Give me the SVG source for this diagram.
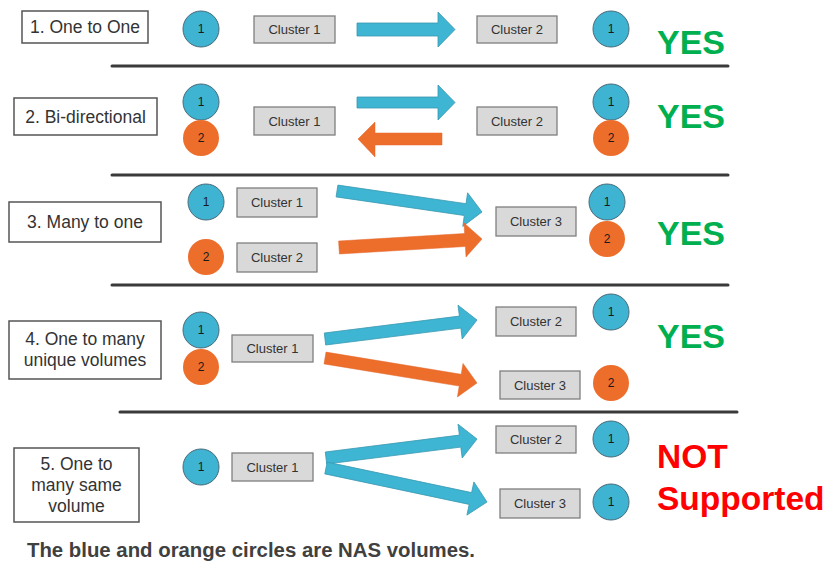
<svg xmlns="http://www.w3.org/2000/svg" width="830" height="565" viewBox="0 0 830 565">
  <style>
    .lbl { fill: #ffffff; stroke: #555555; stroke-width: 1.5; }
    .lbl-t { font-family: "Liberation Sans", Arial, sans-serif; font-size: 17.5px; fill: #333333; text-anchor: middle; }
    .clu { fill: #d9d9d9; stroke: #7f7f7f; stroke-width: 1.3; }
    .clu-t { font-family: "Liberation Sans", Arial, sans-serif; font-size: 13px; fill: #333333; text-anchor: middle; }
    .vb { fill: #3fb4d2; stroke: #4a6a78; stroke-width: 1; }
    .vo { fill: #ed6d2b; stroke: none; }
    .vn { font-family: "Liberation Sans", Arial, sans-serif; font-size: 12px; fill: #1a1a1a; text-anchor: middle; }
    .ab { fill: #3db5d3; stroke: #3a98b0; stroke-width: 0.8; stroke-linejoin: miter; }
    .ao { fill: #ed6d2b; stroke: #e2662a; stroke-width: 0.5; }
    .div { stroke: #3a3a3a; stroke-width: 3; stroke-linecap: round; }
    .yes { font-family: "Liberation Sans", Arial, sans-serif; font-size: 34px; font-weight: bold; fill: #00b050; }
    .no { font-family: "Liberation Sans", Arial, sans-serif; font-size: 33.5px; font-weight: bold; fill: #ff0000; }
    .cap { font-family: "Liberation Sans", Arial, sans-serif; font-size: 19.5px; font-weight: bold; fill: #404040; }
  </style>

  <!-- section dividers -->
  <g id="dividers">
    <line class="div" x1="112" y1="66" x2="728" y2="66"/>
    <line class="div" x1="112" y1="175" x2="728" y2="175"/>
    <line class="div" x1="112" y1="285" x2="728" y2="285"/>
    <line class="div" x1="120" y1="412" x2="737" y2="412"/>
  </g>

  <!-- replication arrows -->
  <g id="connectors">
    <polygon class="ab" points="357,23 438,23 438,12 455,29.5 438,47 438,36 357,36"/>
    <polygon class="ab" points="357,97 438,97 438,85 455,102.5 438,120 438,108 357,108"/>
    <polygon class="ao" points="442,133 375,133 375,122 358,139 375,157 375,145 442,145"/>
    <polygon class="ab" points="337.9,185.1 466.0,203.7 467.6,192.8 482,212 462.8,226.4 464.3,215.5 336.1,196.9"/>
    <polygon class="ao" points="338.6,241.0 464.6,233.5 464.0,223.0 482,239 466.0,257.0 465.4,246.5 339.4,254.0"/>
    <polygon class="ab" points="324.3,333.0 459.4,316.1 458.0,305.2 477,320 462.2,339.0 460.9,328.1 325.7,345.0"/>
    <polygon class="ao" points="326.0,352.1 461.2,374.3 463.0,363.4 477,383 457.4,397.0 459.2,386.1 324.0,363.9"/>
    <polygon class="ab" points="325.3,452.0 459.4,435.1 458.0,424.2 477,439 462.2,458.0 460.8,447.1 326.7,464.0"/>
    <polygon class="ab" points="327.2,462.1 471.6,492.6 473.9,481.9 487,502 466.9,515.1 469.2,504.4 324.8,473.9"/>
  </g>

  <!-- scenario labels -->
  <g id="label1"><rect class="lbl" x="22" y="11" width="126" height="32"/><text class="lbl-t" x="85" y="33">1. One to One</text></g>
  <g id="label2"><rect class="lbl" x="14" y="98" width="143" height="37"/><text class="lbl-t" x="85.5" y="123">2. Bi-directional</text></g>
  <g id="label3"><rect class="lbl" x="9" y="202" width="152" height="40"/><text class="lbl-t" x="85" y="228">3. Many to one</text></g>
  <g id="label4"><rect class="lbl" x="9" y="321" width="152" height="58"/><text class="lbl-t" x="85" y="345">4. One to many</text><text class="lbl-t" x="85" y="366">unique volumes</text></g>
  <g id="label5"><rect class="lbl" x="14" y="448" width="125" height="74"/><text class="lbl-t" x="76.5" y="470">5. One to</text><text class="lbl-t" x="76.5" y="491">many same</text><text class="lbl-t" x="76.5" y="512">volume</text></g>

  <!-- clusters -->
  <g id="r1-cluster1"><rect class="clu" x="254" y="16" width="81" height="27"/><text class="clu-t" x="294.5" y="34">Cluster 1</text></g>
  <g id="r1-cluster2"><rect class="clu" x="477" y="16" width="80" height="27"/><text class="clu-t" x="517" y="34">Cluster 2</text></g>
  <g id="r2-cluster1"><rect class="clu" x="254" y="107" width="81" height="28"/><text class="clu-t" x="294.5" y="125.5">Cluster 1</text></g>
  <g id="r2-cluster2"><rect class="clu" x="477" y="107" width="80" height="28"/><text class="clu-t" x="517" y="125.5">Cluster 2</text></g>
  <g id="r3-cluster1"><rect class="clu" x="237" y="188" width="80" height="29"/><text class="clu-t" x="277" y="207">Cluster 1</text></g>
  <g id="r3-cluster2"><rect class="clu" x="237" y="243" width="80" height="29"/><text class="clu-t" x="277" y="262">Cluster 2</text></g>
  <g id="r3-cluster3"><rect class="clu" x="496" y="207" width="80" height="29"/><text class="clu-t" x="536" y="226">Cluster 3</text></g>
  <g id="r4-cluster1"><rect class="clu" x="232" y="335" width="81" height="27"/><text class="clu-t" x="272.5" y="353">Cluster 1</text></g>
  <g id="r4-cluster2"><rect class="clu" x="496" y="307" width="80" height="29"/><text class="clu-t" x="536" y="326">Cluster 2</text></g>
  <g id="r4-cluster3"><rect class="clu" x="500" y="371" width="80" height="28"/><text class="clu-t" x="540" y="389.5">Cluster 3</text></g>
  <g id="r5-cluster1"><rect class="clu" x="232" y="453" width="81" height="28"/><text class="clu-t" x="272.5" y="471.5">Cluster 1</text></g>
  <g id="r5-cluster2"><rect class="clu" x="496" y="426" width="80" height="27"/><text class="clu-t" x="536" y="444">Cluster 2</text></g>
  <g id="r5-cluster3"><rect class="clu" x="500" y="489" width="80" height="29"/><text class="clu-t" x="540" y="508">Cluster 3</text></g>

  <!-- NAS volumes -->
  <g id="r1-vol-src"><circle class="vb" cx="201" cy="29" r="18"/><text class="vn" x="201" y="33">1</text></g>
  <g id="r1-vol-dst"><circle class="vb" cx="611" cy="29" r="18"/><text class="vn" x="611" y="33">1</text></g>
  <g id="r2-vol-src"><circle class="vb" cx="201" cy="102" r="18"/><circle class="vo" cx="201" cy="138" r="18"/><text class="vn" x="201" y="106">1</text><text class="vn" x="201" y="142">2</text></g>
  <g id="r2-vol-dst"><circle class="vb" cx="611" cy="102" r="18"/><circle class="vo" cx="611" cy="138" r="18"/><text class="vn" x="611" y="106">1</text><text class="vn" x="611" y="142">2</text></g>
  <g id="r3-vol-src1"><circle class="vb" cx="206" cy="202" r="18"/><text class="vn" x="206" y="206">1</text></g>
  <g id="r3-vol-src2"><circle class="vo" cx="206" cy="257" r="18"/><text class="vn" x="206" y="261">2</text></g>
  <g id="r3-vol-dst"><circle class="vb" cx="607" cy="202" r="18"/><circle class="vo" cx="607" cy="239" r="18"/><text class="vn" x="607" y="206">1</text><text class="vn" x="607" y="243">2</text></g>
  <g id="r4-vol-src"><circle class="vb" cx="201" cy="330" r="18"/><circle class="vo" cx="201" cy="367" r="18"/><text class="vn" x="201" y="334">1</text><text class="vn" x="201" y="371">2</text></g>
  <g id="r4-vol-dst1"><circle class="vb" cx="611" cy="312" r="18"/><text class="vn" x="611" y="316">1</text></g>
  <g id="r4-vol-dst2"><circle class="vo" cx="611" cy="383" r="18"/><text class="vn" x="611" y="387">2</text></g>
  <g id="r5-vol-src"><circle class="vb" cx="201" cy="467" r="18"/><text class="vn" x="201" y="471">1</text></g>
  <g id="r5-vol-dst1"><circle class="vb" cx="611" cy="439" r="18"/><text class="vn" x="611" y="443">1</text></g>
  <g id="r5-vol-dst2"><circle class="vb" cx="611" cy="502" r="18"/><text class="vn" x="611" y="506">1</text></g>

  <!-- verdicts -->
  <g id="verdicts">
    <text class="yes" x="657" y="54">YES</text>
    <text class="yes" x="657" y="128">YES</text>
    <text class="yes" x="657" y="245">YES</text>
    <text class="yes" x="657" y="348">YES</text>
    <text class="no" x="657" y="468">NOT</text>
    <text class="no" x="657" y="510">Supported</text>
  </g>

  <text class="cap" x="27" y="557" textLength="448" lengthAdjust="spacingAndGlyphs">The blue and orange circles are NAS volumes.</text>
</svg>
